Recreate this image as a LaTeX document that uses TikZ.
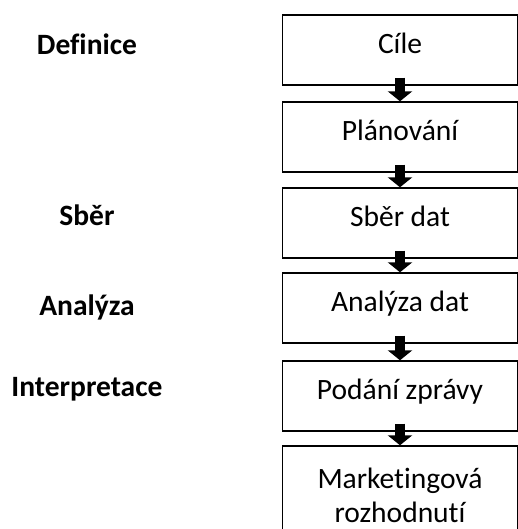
\documentclass[tikz,border=0pt]{standalone}
\usepackage{fontspec}
\setmainfont{Carlito}[Ligatures=NoCommon]
\usetikzlibrary{arrows.meta}

\tikzset{
  stage/.style={draw=black, line width=0.8pt, minimum width=4.7cm, minimum height=1.4cm,
    inner sep=0pt, font=\fontsize{16.8}{16}\selectfont, text height=0.7em, text depth=0.3em},
  phase/.style={font=\fontsize{16.8}{16}\selectfont\bfseries, anchor=base},
  flow/.style={line width=0.2cm, -{Triangle[length=0.2cm,width=0.48cm]}, shorten <=-0.16cm}
}

\begin{document}
\begin{tikzpicture}[x=0.02cm,y=-0.02cm]
\useasboundingbox (0,0) rectangle (518,529);
% kroky procesu
\foreach \n/\y/\t in {cile/50/C\'ile, plan/137/Pl\'anov\'an\'i, sber/223/Sb\v{e}r dat, anal/308/Anal\'yza dat, podani/396/Pod\'an\'i zpr\'avy}{
\node[stage] (\n) at (400,\y) {\t};};
\node[stage, minimum height=1.96cm, text height=, text depth=, align=center] (rozh) at (400,495) {Marketingov\'a\\[0.12cm]rozhodnut\'i};
% sipky
\foreach \a/\b in {cile/plan, plan/sber, sber/anal, anal/podani, podani/rozh}{
\draw[flow] (\a.south) -- (\b.north);};
% faze
\foreach \n/\y/\t in {def/54/Definice, sb/225/Sb\v{e}r, an/315/Anal\'yza, int/396/Interpretace}{
\node[phase] (\n) at (87,\y) {\t};};
\end{tikzpicture}
\end{document}
